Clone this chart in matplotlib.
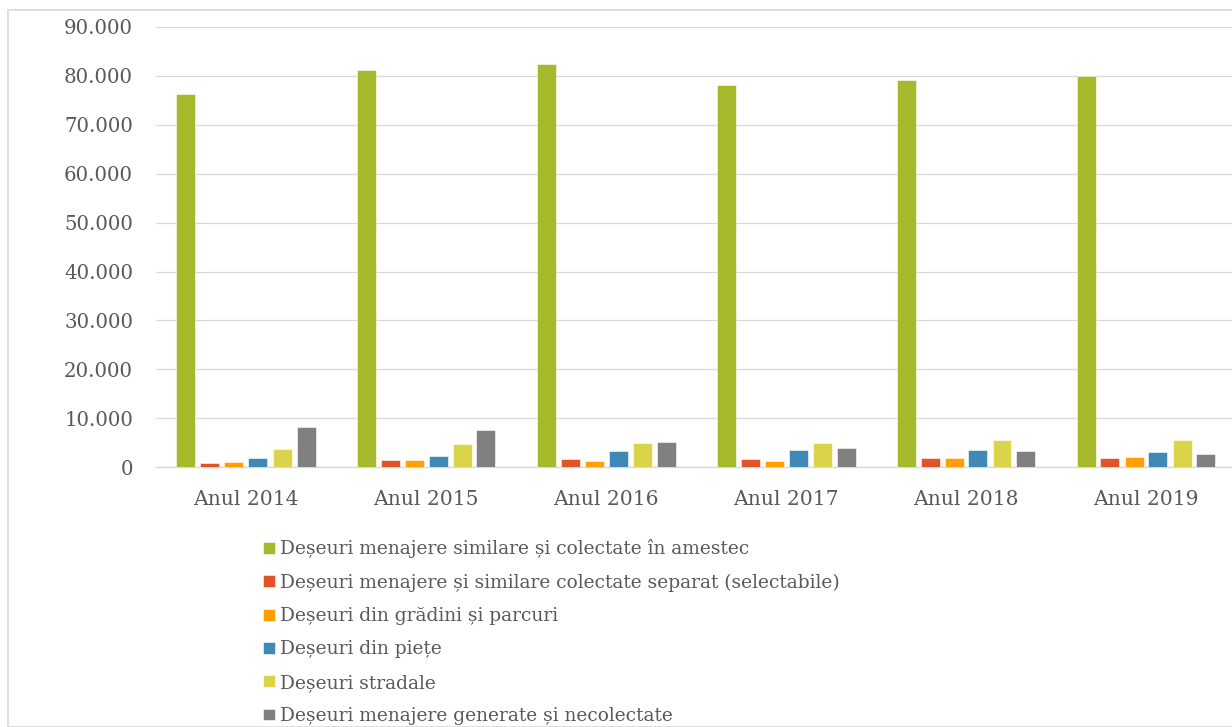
import matplotlib
matplotlib.use("Agg")
import matplotlib.pyplot as plt
import numpy as np
from matplotlib.patches import Rectangle

years = ["Anul 2014", "Anul 2015", "Anul 2016", "Anul 2017", "Anul 2018", "Anul 2019"]

series_names = [
    "Deșeuri menajere similare și colectate în amestec",
    "Deșeuri menajere și similare colectate separat (selectabile)",
    "Deșeuri din grădini și parcuri",
    "Deșeuri din piețe",
    "Deșeuri stradale",
    "Deșeuri menajere generate și necolectate",
]

amestec = [76200, 81100, 82300, 78200, 79100, 80000]
separat = [900, 1500, 1600, 1600, 2000, 2000]
gradini = [1100, 1400, 1200, 1200, 2000, 2200]
piete = [1900, 2400, 3300, 3500, 3500, 3100]
stradale = [3700, 4700, 4900, 4900, 5500, 5500]
necolectate = [8300, 7600, 5200, 4000, 3300, 2700]

values = [amestec, separat, gradini, piete, stradale, necolectate]
colors = ["#A6B82B", "#E15328", "#FF9F00", "#3F89B5", "#D9D44A", "#808080"]

plt.rcParams["font.family"] = ["DejaVu Serif"]
text_col = "#595959"

fig = plt.figure(figsize=(12.32, 7.27), dpi=100)
ax = fig.add_axes([156 / 1232, 1 - 467.3 / 727, 1080 / 1232, (467.3 - 26.75) / 727])

x = np.arange(len(years))
step = 24 / 180
width = 19 / 180
handles = []
for i, (vals, col) in enumerate(zip(values, colors)):
    b = ax.bar(x + (i - 2.5) * step, vals, width, color=col, edgecolor="white",
               linewidth=0.4, label=series_names[i], zorder=3)
    handles.append(b)

ax.set_xlim(-0.5, 5.5)
ax.set_ylim(0, 90000)
ax.set_yticks(np.arange(0, 90001, 10000))
ax.set_yticklabels([("{:,}".format(v)).replace(",", ".") for v in range(0, 90001, 10000)])
ax.set_xticks(x)
ax.set_xticklabels(years)
ax.tick_params(axis="both", length=0, colors=text_col)
ax.tick_params(axis="y", pad=16.5, labelsize=14.2)
ax.tick_params(axis="x", pad=16, labelsize=14.6)
ax.grid(axis="y", color="#D9D9D9", linewidth=0.9, zorder=0)
for s in ["top", "right", "left"]:
    ax.spines[s].set_visible(False)
ax.spines["bottom"].set_color("#D9D9D9")
ax.spines["bottom"].set_linewidth(1.0)

leg = ax.legend(handles=handles, loc="upper left", bbox_to_anchor=(256 / 1232, 1 - 532 / 727),
                bbox_transform=fig.transFigure, frameon=False, fontsize=13.4,
                handlelength=0.6, handleheight=0.6, handletextpad=0.3,
                labelspacing=0.82, borderaxespad=0)
for t in leg.get_texts():
    t.set_color(text_col)

fig.patches.append(Rectangle((8 / 1232, 0), 1.2, 1 - 10 / 727, transform=fig.transFigure,
                             fill=False, edgecolor="#D9D9D9", linewidth=1.2))

fig.savefig("out.png", dpi=100)
